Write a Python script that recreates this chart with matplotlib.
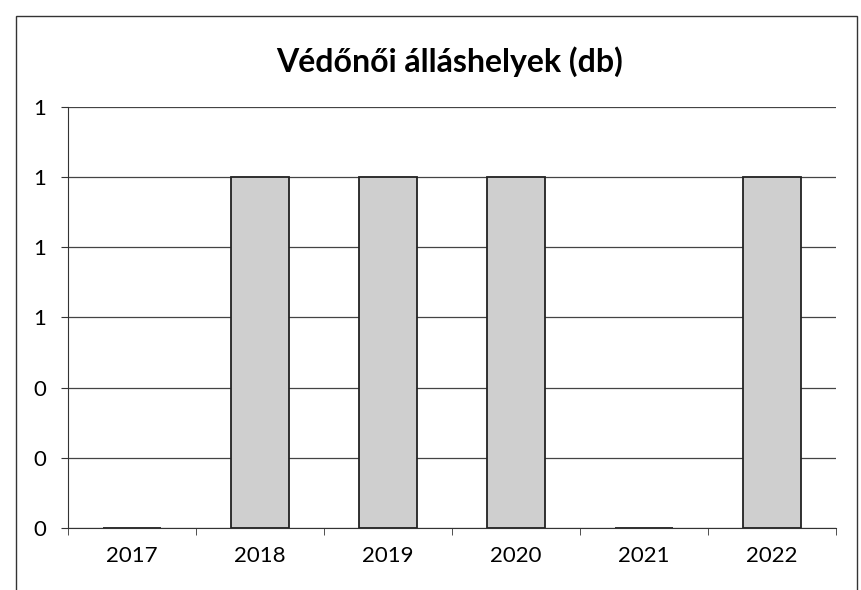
import matplotlib
matplotlib.use("Agg")
import matplotlib.pyplot as plt
from matplotlib.ticker import FuncFormatter, MultipleLocator, FixedLocator
from matplotlib.patches import Rectangle

years = ["2017", "2018", "2019", "2020", "2021", "2022"]
positions = [0, 1, 1, 1, 0, 1]

plt.rcParams["font.family"] = ["Lato", "DejaVu Sans"]

fig = plt.figure(figsize=(8.61, 5.90), dpi=100)
ax = fig.add_axes([68 / 861, 1 - 528 / 590, (836 - 68) / 861, (528 - 107) / 590])

x = list(range(len(years)))
ax.bar(x, positions, width=0.45, color="#cfcfcf", edgecolor="#222222", linewidth=1.3, zorder=3)

ax.set_xlim(-0.5, len(years) - 0.5)
ax.set_ylim(0, 1.2)
ax.yaxis.set_major_locator(MultipleLocator(0.2))
ax.yaxis.set_major_formatter(FuncFormatter(lambda v, p: f"{v:.0f}"))
ax.grid(axis="y", color="#444444", linewidth=0.9, zorder=0)

ax.set_xticks(x)
ax.set_xticklabels(years)
ax.xaxis.set_minor_locator(FixedLocator([i - 0.5 for i in range(len(years) + 1)]))
ax.tick_params(axis="x", which="major", length=0, pad=13, labelsize=16)
ax.tick_params(axis="x", which="minor", length=5, color="#333333")
ax.tick_params(axis="y", length=5, pad=11, labelsize=16, color="#333333")

for side in ("top", "right"):
    ax.spines[side].set_visible(False)
ax.spines["left"].set_color("#333333")
ax.spines["bottom"].set_color("#333333")

fig.text(450 / 861, 1 - 62 / 590, "Védőnői álláshelyek (db)", ha="center", va="center",
         fontsize=23, fontweight="bold")

fig.patches.append(Rectangle((16 / 861, -0.02), (857 - 16) / 861, 1 - 16 / 590 + 0.02,
                             transform=fig.transFigure, fill=False, edgecolor="#333333",
                             linewidth=1.0))

fig.savefig("out.png", dpi=100)
